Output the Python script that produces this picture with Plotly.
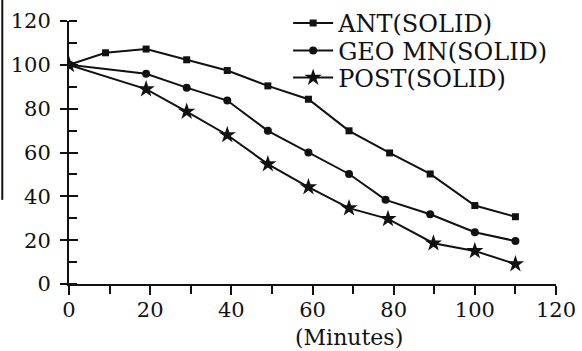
import plotly.graph_objects as go

# Data
ant_x = [0, 9, 19, 29, 39, 49, 59, 69, 79, 89, 100, 110]
ant_y = [100, 105.5, 107.2, 102.3, 97.4, 90.4, 84.3, 69.9, 59.8, 50.2, 35.8, 30.7]

geo_x = [0, 19, 29, 39, 49, 59, 69, 78, 89, 100, 110]
geo_y = [100, 95.9, 89.6, 83.7, 69.9, 60.0, 50.2, 38.4, 31.8, 23.6, 19.6]

post_x = [0, 19, 29, 39, 49, 59, 69, 78.6, 89.8, 100, 110]
post_y = [100, 88.9, 78.7, 68.0, 54.7, 44.2, 34.6, 29.7, 18.6, 15.1, 9.1]

names = ["ANT(SOLID)", "GEO MN(SOLID)", "POST(SOLID)"]
x_ticks = [0, 20, 40, 60, 80, 100, 120]
y_ticks = [0, 20, 40, 60, 80, 100, 120]
x_title = "(Minutes)"

FONT = "DejaVu Serif"
BLACK = "#111111"

fig = go.Figure()
fig.add_trace(go.Scatter(x=ant_x, y=ant_y, name=names[0], mode="lines+markers",
                         line=dict(color=BLACK, width=2), legend="legend",
                         marker=dict(symbol="square", size=7, color=BLACK)))
fig.add_trace(go.Scatter(x=geo_x, y=geo_y, name=names[1], mode="lines+markers",
                         line=dict(color=BLACK, width=2), legend="legend2",
                         marker=dict(symbol="circle", size=8, color=BLACK)))
fig.add_trace(go.Scatter(x=post_x, y=post_y, name=names[2], mode="lines+markers",
                         line=dict(color=BLACK, width=2), legend="legend3",
                         marker=dict(symbol="star", size=13, color=BLACK)))

# invisible trace on overlay axis for inside part of major y ticks
fig.add_trace(go.Scatter(x=[0], y=[0], xaxis="x", yaxis="y2", mode="markers",
                         marker=dict(opacity=0), showlegend=False, hoverinfo="skip"))

def leg(py):
    return dict(x=0.45, y=1 - (py - 21) / 263, xanchor="left", yanchor="middle",
                bgcolor="rgba(0,0,0,0)", font=dict(family=FONT, size=24, color=BLACK),
                tracegroupgap=0, itemwidth=40)

fig.update_layout(
    width=582, height=351,
    margin=dict(l=69, r=26, t=21, b=67, autoexpand=False),
    paper_bgcolor="white", plot_bgcolor="white",
    font=dict(family=FONT, size=21, color=BLACK),
    showlegend=True,
    legend=leg(23.5),
    legend2=leg(51),
    legend3=leg(78),
    xaxis=dict(range=[0, 120], tickvals=x_ticks, ticktext=[str(v) for v in x_ticks],
               ticks="outside", ticklen=9, tickwidth=2, tickcolor=BLACK,
               showline=True, linecolor=BLACK, linewidth=2, showgrid=False, zeroline=False,
               ticklabelstandoff=-3, automargin=False,
               minor=dict(dtick=10, tick0=0, ticks="outside", ticklen=8, tickwidth=2, tickcolor=BLACK),
               tickfont=dict(family=FONT, size=21, color=BLACK)),
    yaxis=dict(range=[0, 120], tickvals=y_ticks, ticktext=[str(v) for v in y_ticks],
               ticks="outside", ticklen=7, tickwidth=2, tickcolor=BLACK,
               showline=True, linecolor=BLACK, linewidth=2, showgrid=False, zeroline=False,
               ticklabelstandoff=5, automargin=False,
               minor=dict(dtick=10, tick0=0, ticks="inside", ticklen=8, tickwidth=2, tickcolor=BLACK),
               tickfont=dict(family=FONT, size=21, color=BLACK)),
    yaxis2=dict(range=[0, 120], overlaying="y", side="left", tickvals=y_ticks,
                showticklabels=False, ticks="inside", ticklen=9, tickwidth=2, tickcolor=BLACK,
                showline=False, showgrid=False, zeroline=False, automargin=False),
    annotations=[dict(text=x_title, xref="paper", yref="paper", x=0.575, y=-0.205,
                      xanchor="center", yanchor="middle", showarrow=False,
                      font=dict(family=FONT, size=22, color=BLACK))],
    shapes=[dict(type="line", xref="paper", yref="paper", x0=-0.137, x1=-0.137,
                 y0=0.32, y1=1.08, line=dict(color=BLACK, width=2))],
)

fig.write_html("out.html")
